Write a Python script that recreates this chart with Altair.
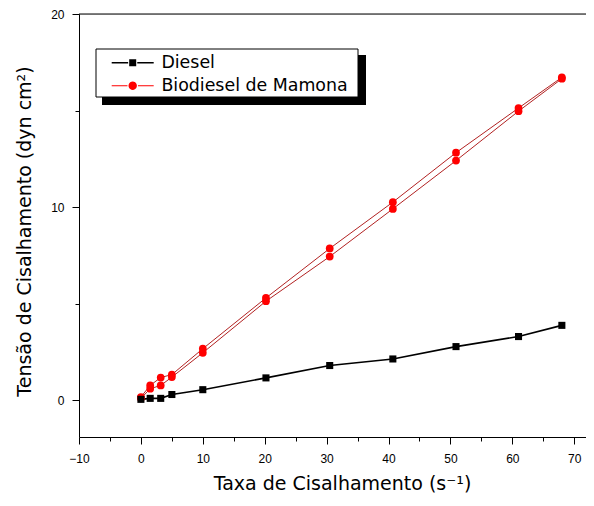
import math
import altair as alt
import pandas as pd

# ---- data ----
shear_rate = [0, 1.5, 3.2, 5, 10, 20.2, 30.5, 40.7, 50.9, 61, 68]
diesel = [0.05, 0.1, 0.1, 0.3, 0.55, 1.16, 1.8, 2.14, 2.78, 3.3, 3.88]
bio_up = [0.17, 0.77, 1.18, 1.33, 2.67, 5.3, 7.86, 10.26, 12.82, 15.13, 16.72]
bio_down = [0.1, 0.6, 0.77, 1.2, 2.46, 5.13, 7.44, 9.91, 12.41, 14.97, 16.65]

series = ["Diesel", "Biodiesel de Mamona"]
marker_colors = ["#000000", "#ff0000"]
x_ticks = list(range(-10, 75, 5))
y_ticks = [0, 5, 10, 15, 20]

rows = []
for x, y in zip(shear_rate, diesel):
    rows.append({"x": x, "y": y, "serie": "Diesel", "run": "d"})
for x, y in zip(shear_rate, bio_up):
    rows.append({"x": x, "y": y, "serie": "Biodiesel de Mamona", "run": "up"})
for x, y in zip(shear_rate, bio_down):
    rows.append({"x": x, "y": y, "serie": "Biodiesel de Mamona", "run": "down"})
df = pd.DataFrame(rows)

FONT = "Liberation Sans"
TFONT = "DejaVu Sans"
W, H = 507, 423

xscale = alt.Scale(domain=[-10, 71.9], nice=False, zero=False)
yscale = alt.Scale(domain=[-1.9, 20], nice=False, zero=False)

xaxis = alt.Axis(
    values=x_ticks,
    labelExpr="datum.value % 10 === 0 ? datum.label : ''",
    tickSize={"condition": {"test": "datum.value % 10 !== 0", "value": 4}, "value": 7},
    grid=False, domainColor="black", tickColor="black", labelColor="black",
    labelFont=FONT, labelFontSize=12, labelPadding=9, labelFlush=False,
    title="Taxa de Cisalhamento (s⁻¹)", titleFont=TFONT, titleFontSize=19,
    titleFontWeight="normal", titleColor="black", titlePadding=10, titleX=263,
)
yaxis = alt.Axis(
    values=y_ticks,
    labelExpr="datum.value % 10 === 0 ? datum.label : ''",
    tickSize={"condition": {"test": "datum.value % 10 !== 0", "value": 4}, "value": 7},
    grid=False, domainColor="black", tickColor="black", labelColor="black",
    labelFont=FONT, labelFontSize=12, labelPadding=8, labelFlush=False,
    title="Tensão de Cisalhamento (dyn cm²)", titleFont=TFONT, titleFontSize=19,
    titleFontWeight="normal", titleColor="black", titlePadding=16, titleY=217,
)

base = alt.Chart(df).encode(
    x=alt.X("x:Q", scale=xscale, axis=xaxis),
    y=alt.Y("y:Q", scale=yscale, axis=yaxis),
)

diesel_line = base.transform_filter("datum.serie == 'Diesel'").mark_line(
    color="black", strokeWidth=1.6).encode(detail="run:N")
bio_line = base.transform_filter("datum.serie != 'Diesel'").mark_line(
    color="#b22222", strokeWidth=1).encode(detail="run:N")
diesel_pts = base.transform_filter("datum.serie == 'Diesel'").mark_point(
    shape="square", filled=True, color="black", size=50, opacity=1)
bio_pts = base.transform_filter("datum.serie != 'Diesel'").mark_point(
    shape="circle", filled=True, color="#ff0000", size=60, opacity=1)


def rect(x0, x1, h):
    return f"M{x0},{-h}L{x1},{-h}L{x1},{h}L{x0},{h}Z"


circle_pts = [(2 + 0.6 * math.cos(2 * math.pi * k / 20), 0.6 * math.sin(2 * math.pi * k / 20))
              for k in range(20)]
circle_path = "M" + "L".join(f"{a:.3f},{b:.3f}" for a, b in circle_pts) + "Z"

path_sq = " ".join([rect(-1, 1.35, 0.11), rect(1.5, 2.5, 0.5), rect(2.65, 5, 0.11)])
path_ci = " ".join([rect(-1, 1.25, 0.07), circle_path, rect(2.75, 5, 0.07)])

legend = alt.Legend(
    title=None, orient="none", legendX=17, legendY=36, padding=4,
    symbolSize=196, symbolOffset=10, symbolStrokeWidth=0, symbolOpacity=1,
    labelOffset=34, labelFont=TFONT, labelFontSize=17.4, labelColor="black",
    rowPadding=4, labelLimit=400,
)
legend_layer = base.transform_filter("datum.x < -1000").mark_point(filled=True).encode(
    fill=alt.Fill("serie:N", scale=alt.Scale(domain=series, range=marker_colors), legend=legend),
    shape=alt.Shape("serie:N", scale=alt.Scale(domain=series, range=[path_sq, path_ci]), legend=legend),
)

one = pd.DataFrame({"a": [0]})
shadow = alt.Chart(one).mark_rect(color="black").encode(
    x=alt.value(23), x2=alt.value(287), y=alt.value(41), y2=alt.value(91))
legend_box = alt.Chart(one).mark_rect(fill="white", stroke="black", strokeWidth=1).encode(
    x=alt.value(17), x2=alt.value(279), y=alt.value(35), y2=alt.value(83))
top_frame = alt.Chart(one).mark_rule(color="black", strokeWidth=1).encode(
    x=alt.value(0), x2=alt.value(W), y=alt.value(0))

chart = alt.layer(
    shadow, legend_box, top_frame, bio_line, diesel_line, bio_pts, diesel_pts, legend_layer
).properties(
    width=W, height=H,
    padding={"left": 71, "top": 6, "right": 0, "bottom": 60},
    autosize=alt.AutoSizeParams(type="none"),
).configure_view(strokeWidth=0).configure(background="white")

chart.save("out.html", embed_options={"renderer": "svg", "actions": False})
